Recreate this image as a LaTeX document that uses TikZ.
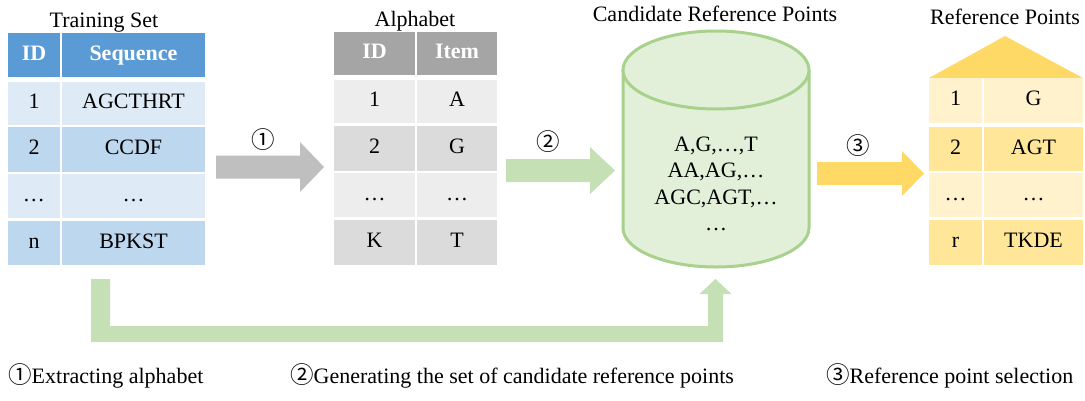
\documentclass[tikz,border=0pt]{standalone}
\usepackage{fontspec}
\setmainfont{Liberation Serif}
\newfontfamily\circfont{Noto Sans CJK JP}
\usetikzlibrary{calc}
\definecolor{tsHead}{HTML}{5B9BD5}
\definecolor{tsLight}{HTML}{DEEBF7}
\definecolor{tsDark}{HTML}{BDD7EE}
\definecolor{alHead}{HTML}{A5A5A5}
\definecolor{alLight}{HTML}{EDEDED}
\definecolor{alDark}{HTML}{DBDBDB}
\definecolor{rpLight}{HTML}{FFF2CC}
\definecolor{rpDark}{HTML}{FFE699}
\definecolor{rpRoof}{HTML}{FFD966}
\definecolor{cylFill}{HTML}{E2F0D9}
\definecolor{cylLine}{HTML}{A9D18E}
\definecolor{arrGray}{HTML}{BFBFBF}
\definecolor{arrGreen}{HTML}{C5E0B4}
\definecolor{arrYellow}{HTML}{FFD966}
\newcommand\mkcell[8]{%
  \node[cell, fill=#6, #7, minimum width={(#4-#2)*1pt}, minimum height={(#5-#3)*1pt}] (#1) at ({(#2+#4)/2},{(#3+#5)/2}) {#8};}
\newcommand\mkarrow[6]{%
  \fill[#3] ($(#1)+(0,-#4)$) -- ($(#2)+(-#6,-#4)$) -- ($(#2)+(-#6,-#5)$) -- (#2) -- ($(#2)+(-#6,#5)$) -- ($(#2)+(-#6,#4)$) -- ($(#1)+(0,#4)$) -- cycle;}
\newcommand\cdig[1]{{\circfont\fontsize{23.5}{26}\selectfont #1}}
\begin{document}
\begin{tikzpicture}[x=1pt,y=-1pt,
  every node/.style={font=\fontsize{22}{26.3}\selectfont},
  cell/.style={rectangle, draw=none, inner sep=0pt, outer sep=0pt, text height=10pt, text depth=0pt},
  head/.style={text=white, font=\fontsize{22}{26.3}\selectfont\bfseries},
  title/.style={anchor=base, inner sep=0pt},
  circ/.style={inner sep=0pt},
  legend/.style={anchor=base west, inner sep=0pt},
  cyltext/.style={anchor=base, inner sep=0pt}]
\useasboundingbox (0,0) rectangle (1085,400);

% titles
\node[title] (tTS) at (104,27) {Training Set};
\node[title] (tAL) at (415,26) {Alphabet};
\node[title] (tCR) at (715,21) {Candidate Reference Points};
\node[title] (tRP) at (1005,24) {Reference Points};

% training set table
\mkcell{tsH1}{8}{33}{60}{77}{tsHead}{head}{ID}
\mkcell{tsH2}{62}{33}{205}{77}{tsHead}{head}{Sequence}
\mkcell{ts11}{8}{82}{60}{125}{tsLight}{}{1}
\mkcell{ts12}{62}{82}{205}{125}{tsLight}{}{AGCTHRT}
\mkcell{ts21}{8}{127}{60}{172}{tsDark}{}{2}
\mkcell{ts22}{62}{127}{205}{172}{tsDark}{}{CCDF}
\mkcell{ts31}{8}{174}{60}{218}{tsLight}{}{…}
\mkcell{ts32}{62}{174}{205}{218}{tsLight}{}{…}
\mkcell{ts41}{8}{221}{60}{265}{tsDark}{}{n}
\mkcell{ts42}{62}{221}{205}{265}{tsDark}{}{BPKST}

% alphabet table
\mkcell{alH1}{334}{32}{415}{75}{alHead}{head}{ID}
\mkcell{alH2}{417}{32}{497}{75}{alHead}{head}{Item}
\mkcell{al11}{334}{80}{415}{123}{alLight}{}{1}
\mkcell{al12}{417}{80}{497}{123}{alLight}{}{A}
\mkcell{al21}{334}{126}{415}{171}{alDark}{}{2}
\mkcell{al22}{417}{126}{497}{171}{alDark}{}{G}
\mkcell{al31}{334}{173}{415}{217}{alLight}{}{…}
\mkcell{al32}{417}{173}{497}{217}{alLight}{}{…}
\mkcell{al41}{334}{220}{415}{265}{alDark}{}{K}
\mkcell{al42}{417}{220}{497}{265}{alDark}{}{T}

% reference points table
\fill[rpRoof] (929,78) -- (1005,36) -- (1083,78) -- cycle;
\mkcell{rp11}{929}{78}{982}{123}{rpLight}{}{1}
\mkcell{rp12}{984}{78}{1083}{123}{rpLight}{}{G}
\mkcell{rp21}{929}{127}{982}{171}{rpDark}{}{2}
\mkcell{rp22}{984}{127}{1083}{171}{rpDark}{}{AGT}
\mkcell{rp31}{929}{173}{982}{217}{rpLight}{}{…}
\mkcell{rp32}{984}{173}{1083}{217}{rpLight}{}{…}
\mkcell{rp41}{929}{220}{982}{265}{rpDark}{}{r}
\mkcell{rp42}{984}{220}{1083}{265}{rpDark}{}{TKDE}

% cylinder
\fill[cylFill] (623,70) -- (623,228) arc[start angle=180, end angle=0, x radius=93, y radius=39] -- (809,70) -- cycle;
\draw[cylLine, line width=3pt] (623,70) -- (623,228) arc[start angle=180, end angle=0, x radius=93, y radius=39] -- (809,70);
\filldraw[fill=cylFill, draw=cylLine, line width=3pt] (716,70) ellipse[x radius=93, y radius=39];
\node[cyltext] (c1) at (716,151) {A,G,…,T};
\node[cyltext] (c2) at (716,177) {AA,AG,…};
\node[cyltext] (c3) at (716,204) {AGC,AGT,…};
\node[cyltext] (c4) at (716,230) {…};

% block arrows
\coordinate (a1s) at (216,167);
\coordinate (a1e) at (324,167);
\coordinate (a2s) at (506,170.5);
\coordinate (a2e) at (615,170.5);
\coordinate (a3s) at (817,173.5);
\coordinate (a3e) at (924,173.5);
\mkarrow{a1s}{a1e}{arrGray}{11.5}{25}{24}
\mkarrow{a2s}{a2e}{arrGreen}{11.5}{23.5}{25}
\mkarrow{a3s}{a3e}{arrYellow}{11.5}{22.5}{22}
\node[circ] (n1) at (263,140) {\cdig{①}};
\node[circ] (n2) at (548,142) {\cdig{②}};
\node[circ] (n3) at (858,146) {\cdig{③}};

% feedback arrow
\coordinate (fbS) at (100.5,279);
\coordinate (fbE) at (715.5,279);
\fill[arrGreen] ($(fbS)+(-9.5,0)$) -- ($(fbS)+(-9.5,63)$) -- ($(fbE)+(7.5,63)$) -- ($(fbE)+(7.5,15)$) -- ($(fbE)+(16,15)$) -- (fbE) -- ($(fbE)+(-16,15)$) -- ($(fbE)+(-7.5,15)$) -- ($(fbE)+(-7.5,47)$) -- ($(fbS)+(9.5,47)$) -- ($(fbS)+(9.5,0)$) -- cycle;

% legend
\node[legend] (l1) at (8,383) {\cdig{①}Extracting alphabet};
\node[legend] (l2) at (290,383) {\cdig{②}Generating the set of candidate reference points};
\node[legend] (l3) at (826,383) {\cdig{③}Reference point selection};
\end{tikzpicture}
\end{document}
